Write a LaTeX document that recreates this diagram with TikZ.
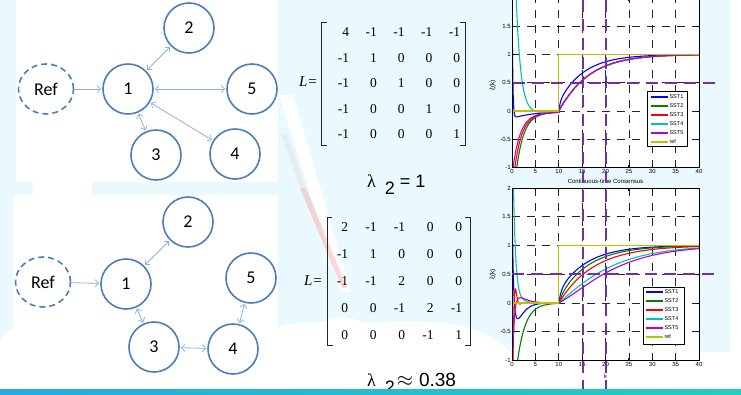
\documentclass[tikz,border=0pt]{standalone}
\usepackage{fontspec}
\setmainfont{Liberation Sans}
\newfontfamily\timesfont{Liberation Serif}
\newfontfamily\calibrifont{Carlito}
\usetikzlibrary{arrows.meta,shapes.geometric,matrix}
\definecolor{bgcyan}{RGB}{233,249,253}
\definecolor{nodeblue}{RGB}{74,126,187}
\definecolor{linkblue}{RGB}{145,178,215}
\definecolor{purp}{RGB}{112,48,160}
\definecolor{barleft}{RGB}{41,168,226}
\definecolor{barright}{RGB}{32,208,190}
\definecolor{sstblue}{RGB}{0,0,255}
\definecolor{sstgreen}{RGB}{0,128,0}
\definecolor{sstred}{RGB}{255,0,0}
\definecolor{sstcyan}{RGB}{0,191,191}
\definecolor{sstmag}{RGB}{191,0,191}
\definecolor{refolive}{RGB}{191,191,0}

%% common axes: white area, grid, ticks, tick labels
\newcommand{\axesframe}[1]{%
  \fill[white] (0,-1) rectangle (40,2);
  \foreach \gx in {5,10,...,35} \draw[gridline] (\gx,-1) -- (\gx,2);
  \foreach \gy in {-0.5,0,0.5,1,1.5} \draw[gridline] (0,\gy) -- (40,\gy);
  \foreach \gx in {0,5,...,40} {
    \draw[axisline] (\gx,-1) -- ++(0,2.5pt);
    \draw[axisline] (\gx,2) -- ++(0,-2.5pt);
    \node[ticklabel, below] (#1x\gx) at (\gx,-1) {\gx};
  }
  \foreach \gy [count=\k] in {-1,-0.5,0,0.5,1,1.5,2} {
    \draw[axisline] (0,\gy) -- ++(2.5pt,0);
    \draw[axisline] (40,\gy) -- ++(-2.5pt,0);
    \node[ticklabel, left] (#1y\k) at (0,\gy) {\gy};
  }
}

\begin{document}
\begin{tikzpicture}[x=1pt, y=-1pt,
  agent/.style={circle, draw=nodeblue, line width=1.6pt, fill=white, minimum size=50pt, inner sep=0pt, font=\calibrifont\fontsize{18}{20}\selectfont},
  refagent/.style={agent, ellipse, dash pattern=on 6pt off 4pt, minimum width=55pt, minimum height=50pt},
  link/.style={linkblue, line width=0.8pt, {Straight Barb[length=3.5pt,width=7pt]}-{Straight Barb[length=3.5pt,width=7pt]}, shorten <=1pt, shorten >=1pt},
  feed/.style={linkblue, line width=0.8pt, -{Straight Barb[length=3.5pt,width=7pt]}, shorten >=1pt},
  lmat/.style={matrix of nodes, inner sep=0pt, nodes={inner sep=0pt, text width=16pt, align=right, text height=9pt, text depth=0pt, font=\timesfont\fontsize{13.5}{14}\selectfont}},
  brk/.style={black!85, line width=0.8pt},
  lamtext/.style={inner sep=0pt, font=\fontsize{18}{20}\selectfont},
  gridline/.style={black!85, line width=0.7pt, dash pattern=on 8pt off 7pt},
  axisline/.style={black, line width=0.8pt},
  ticklabel/.style={inner sep=1.2pt, font=\fontsize{6}{6}\selectfont},
  sst/.style={line width=1.1pt},
  legtext/.style={text=black, inner sep=1pt, font=\fontsize{5.5}{6}\selectfont},
  purpdash/.style={purp, line width=2.3pt, dash pattern=on 12pt off 7pt}]
  \useasboundingbox (0,0) rectangle (741,394);
  %% slide backdrop
  \fill[bgcyan] (0,0) rectangle (741,394);
  \fill[white] (731,0) rectangle (741,394);
  \fill[white] (16,0) rectangle (278,182);
  \fill[white] (33,182) rectangle (92,195);
  \fill[white] (13,195) rectangle (278,340);
  \fill[white] (0,394) -- (0,342) .. controls (2,334) and (8,330) .. (14,329) -- (278,329)
    -- (285,325) .. controls (300,322) and (320,324) .. (332,319)
    .. controls (342,315) and (352,318) .. (362,322)
    .. controls (390,322) and (430,320) .. (455,324)
    .. controls (480,330) and (500,340) .. (510,352) -- (741,352) -- (741,394) -- cycle;
  %% glare
  \fill[white] (279,95) -- (293,95) -- (351,292) -- (341,292) -- cycle;
  \fill[gray!25, opacity=0.45] (281,134) -- (287,134) -- (306,188) -- (300,188) -- cycle;
  \fill[red!35, opacity=0.45] (300,188) -- (306,188) -- (347,288) -- (342,288) -- cycle;

  %% star graph
  \node[refagent] (reftop) at (46,89) {Ref};
  \node[agent] (a1) at (128,89) {1};
  \node[agent] (a2) at (189,28) {2};
  \node[agent] (a5) at (252,89) {5};
  \node[agent] (a3) at (156,155) {3};
  \node[agent] (a4) at (235,154) {4};
  \draw[feed] (reftop) -- (a1);
  \draw[link] (a1) -- (a2);
  \draw[link] (a1) -- (a5);
  \draw[link] (a1) -- (a3);
  \draw[link] (a1) -- (a4);

  %% chain graph
  \node[refagent] (refbot) at (43,282) {Ref};
  \node[agent] (b1) at (126,284) {1};
  \node[agent] (b2) at (188,222) {2};
  \node[agent] (b5) at (251,278) {5};
  \node[agent] (b3) at (154,347) {3};
  \node[agent] (b4) at (233,349) {4};
  \draw[feed] (refbot) -- (b1);
  \draw[link] (b1) -- (b2);
  \draw[link] (b1) -- (b3);
  \draw[link] (b3) -- (b4);
  \draw[link] (b4) -- (b5);

  %% Laplacians
  \node[inner sep=0pt, font=\timesfont\fontsize{15}{16}\selectfont] (Leqtop) at (308,82) {\textit{L}\kern1pt=};
  \matrix (Ltop) [lmat, column sep=11.75pt, row sep=16.5pt] at (396.5,83) {
    4 & -1 & -1 & -1 & -1 \\
    -1 & 1 & 0 & 0 & 0 \\
    -1 & 0 & 1 & 0 & 0 \\
    -1 & 0 & 0 & 1 & 0 \\
    -1 & 0 & 0 & 0 & 1 \\
  };
  \draw[brk] ([xshift=-6pt,yshift=4.8pt]Ltop.north west) -| ([xshift=-11pt,yshift=-6.5pt]Ltop.south west) -- ++(5pt,0);
  \draw[brk] ([yshift=4.8pt]Ltop.north east) -| ([xshift=5pt,yshift=-6.5pt]Ltop.south east) -- ++(-5pt,0);
  \node[lamtext, anchor=base west] (lamtop) at (367,187) {{\timesfont λ}\hspace{9pt}\raisebox{-7pt}{2} = 1};

  \node[inner sep=0pt, font=\timesfont\fontsize{15}{16}\selectfont] (Leqbot) at (313,281) {\textit{L}\kern1pt=};
  \matrix (Lbot) [lmat, column sep=12.5pt, row sep=18pt] at (397,281) {
    2 & -1 & -1 & 0 & 0 \\
    -1 & 1 & 0 & 0 & 0 \\
    -1 & -1 & 2 & 0 & 0 \\
    0 & 0 & -1 & 2 & -1 \\
    0 & 0 & 0 & -1 & 1 \\
  };
  \draw[brk] ([yshift=4.5pt]Lbot.north west) -| ([xshift=-4pt,yshift=-5.5pt]Lbot.south west) -- ++(5pt,0);
  \draw[brk] ([xshift=3pt,yshift=4.5pt]Lbot.north east) -| ([xshift=8pt,yshift=-5.5pt]Lbot.south east) -- ++(-5pt,0);
  \node[lamtext, anchor=base west] (lambot) at (367,386) {{\timesfont λ}\hspace{9pt}\raisebox{-7pt}{2}\hspace{2pt}{\fontsize{20}{20}\selectfont$\approx$}\hspace{6pt}{\fontsize{19}{20}\selectfont 0.38}};

  %% star response
  \begin{scope}[shift={(512,111)}, x=4.675pt, y=56.5pt]
    \axesframe{tp}
    \begin{scope}
      \clip (0,-1) rectangle (40,2);
      \draw[sst, sstblue] plot[domain=0:10, samples=120] (\x,{2.4*exp(-7*\x)-0.13*exp(-\x/5)})
        -- plot[domain=10:40, samples=90] (\x,{1-0.85*exp(-(\x-10)/5.3)-0.15*exp(-(\x-10)/0.3)});
      \draw[sst, sstgreen] plot[domain=0:10, samples=80] (\x,{-0.05+0.003*\x-1.8*exp(-\x/1.6)})
        -- plot[domain=10:40, samples=60] (\x,{1-exp(-(\x-10)/5)*(1+0.05*(\x-10))});
      \draw[sst, sstred] plot[domain=0:10, samples=80] (\x,{-0.05+0.003*\x-1.4*exp(-\x/1.6)})
        -- plot[domain=10:40, samples=60] (\x,{1-exp(-(\x-10)/5)*(1+0.05*(\x-10))});
      \draw[sst, sstcyan] plot[domain=0:10, samples=80] (\x,{-0.05+0.003*\x+5*exp(-\x)})
        -- plot[domain=10:40, samples=60] (\x,{1-exp(-(\x-10)/5)*(1+0.05*(\x-10))});
      \draw[sst, sstmag] plot[domain=0:10, samples=80] (\x,{-0.05+0.003*\x-1.1*exp(-\x/1.6)})
        -- plot[domain=10:40, samples=60] (\x,{1-exp(-(\x-10)/5)*(1+0.05*(\x-10))});
      \draw[sst, refolive] (0,0) -- (10,0) -- (10,1) -- (40,1);
    \end{scope}
    \draw[axisline] (0,-1) rectangle (40,2);
    \node[ticklabel, rotate=90, font=\fontsize{6.5}{7}\selectfont] (tpylab) at (-4.1,0.45) {ξ(k)};
    \node[ticklabel] (tptitle) at (20,-1.25) {Continuous-time Consensus};
  \end{scope}
  \draw[fill=white, line width=0.7pt] (647,91) rectangle (687,146);
  \foreach \c/\t [count=\i] in {sstblue/SST1,sstgreen/SST2,sstred/SST3,sstcyan/SST4,sstmag/SST5,refolive/ref}
    \draw[sst, \c] (651,88+9*\i) -- (668,88+9*\i) node[legtext, right] (legA\i) {\t};

  %% chain response
  \begin{scope}[shift={(512,303)}, x=4.675pt, y=57.5pt]
    \axesframe{bt}
    \begin{scope}
      \clip (0,-1) rectangle (40,2);
      \draw[sst, sstblue] plot[domain=0:10, samples=120] (\x,{2*exp(-4*\x)-0.8*\x*exp(-\x)})
        -- plot[domain=10:40, samples=90] (\x,{1-0.8*exp(-(\x-10)/6)-0.2*exp(-(\x-10)/0.5)});
      \draw[sst, sstgreen] plot[domain=0:10, samples=80] (\x,{-2*exp(-\x/1.73)})
        -- plot[domain=10:40, samples=60] (\x,{1-0.9*exp(-(\x-10)/6.5)-0.1*exp(-(\x-10))});
      \draw[sst, sstred] plot[domain=0:10, samples=200] (\x,{-2.5*exp(-\x/0.35)*cos(deg(3.4*\x))})
        -- plot[domain=10:40, samples=60] (\x,{1-exp(-(\x-10)/7.5)});
      \draw[sst, sstcyan] plot[domain=0:10, samples=120] (\x,{3.6*exp(-\x/0.5)+0.12*exp(-\x/2.5)-0.01})
        -- plot[domain=10:40, samples=60] (\x,{1-exp(-(\x-10)/7)*(1+0.5*(\x-10)/7)});
      \draw[sst, sstmag] plot[domain=0:10, samples=120] (\x,{-1.5*exp(-\x/0.35)+0.25*\x*exp(-\x/1.2)})
        -- plot[domain=10:40, samples=60] (\x,{1-exp(-(\x-10)/7)*(1+0.7*(\x-10)/7)});
      \draw[sst, refolive] (0,0) -- (10,0) -- (10,1) -- (40,1);
    \end{scope}
    \draw[axisline] (0,-1) rectangle (40,2);
    \node[ticklabel, rotate=90, font=\fontsize{6.5}{7}\selectfont] (btylab) at (-4.1,0.5) {ξ(k)};
    \node[ticklabel] (btxlab) at (20,-1.28) {k};
  \end{scope}
  \draw[fill=white, line width=0.7pt] (643,287) rectangle (684,344);
  \foreach \c/\t [count=\i] in {sstblue/SST1,sstgreen/SST2,sstred/SST3,sstcyan/SST4,sstmag/SST5,refolive/ref}
    \draw[sst, \c] (646,283+9*\i) -- (663,283+9*\i) node[legtext, right] (legB\i) {\t};

  %% marker lines
  \draw[purpdash] (583,0) -- (583,394);
  \draw[purpdash] (606,0) -- (606,394);
  \draw[purpdash] (513,83) -- (718,83);
  \draw[purpdash] (512,274) -- (718,274);

  %% footer bar
  \shade[left color=barleft, right color=barright] (0,389) rectangle (741,394);
\end{tikzpicture}
\end{document}
